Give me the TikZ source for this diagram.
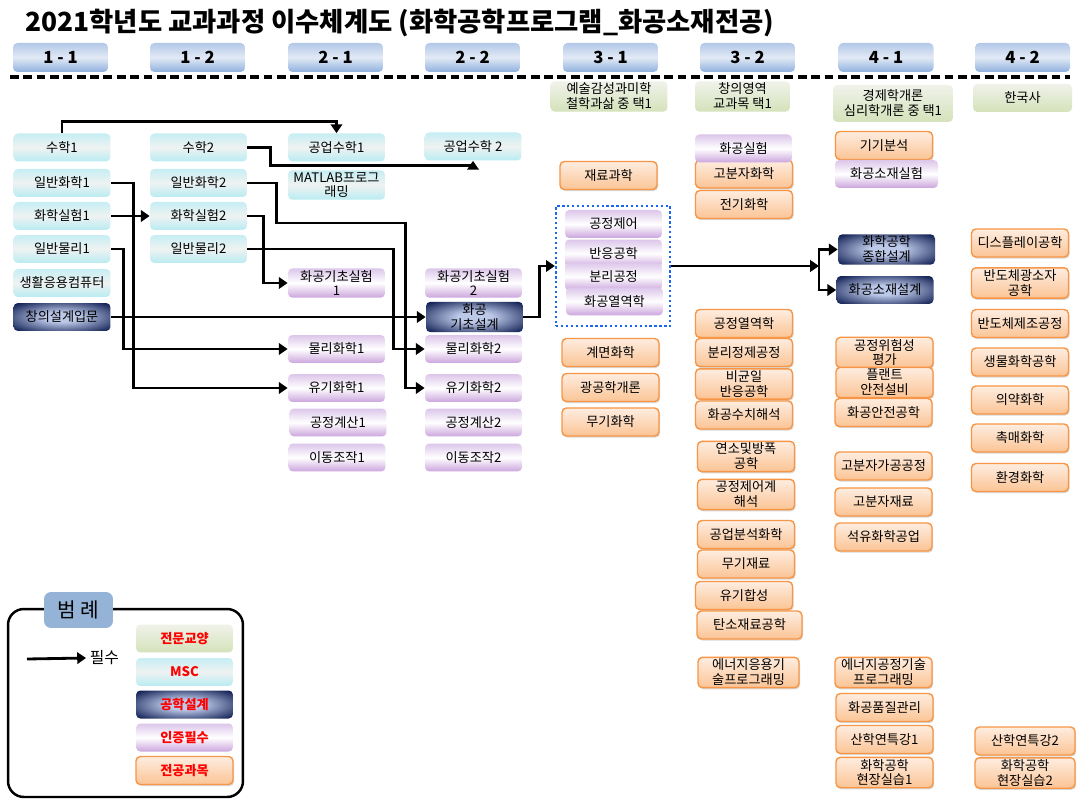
\documentclass[tikz,border=0pt]{standalone}
\usepackage{fontspec}
\setmainfont{Noto Sans CJK KR}
\usepackage{tikz}
\usetikzlibrary{arrows.meta,shadows}
\definecolor{semtop}{HTML}{B3C8E8}
\definecolor{semmid}{HTML}{E2EAF5}
\definecolor{sembot}{HTML}{8FB0DE}
\definecolor{libtop}{HTML}{F0F2EA}
\definecolor{libbot}{HTML}{D4E2BA}
\definecolor{msctop}{HTML}{C6EEF3}
\definecolor{mscmid}{HTML}{EFF2F2}
\definecolor{mscbot}{HTML}{B8ECF2}
\definecolor{certtop}{HTML}{DCC6EA}
\definecolor{certbot}{HTML}{CBA5DD}
\definecolor{majtop}{HTML}{FEEDE0}
\definecolor{majbot}{HTML}{FBC495}
\definecolor{majline}{HTML}{F79646}
\definecolor{navlight}{HTML}{BCC8E8}
\definecolor{navdark}{HTML}{0F1E52}
\definecolor{legblue}{HTML}{95B3D7}
\definecolor{dotblue}{HTML}{1A66F0}
\pgfdeclareradialshading{navyglow}{\pgfpoint{0bp}{0bp}}%
  {color(0bp)=(navlight); color(9bp)=(navlight); color(34bp)=(navdark); color(50bp)=(navdark)}

\begin{document}
\begin{tikzpicture}[x=0.02cm, y=-0.02cm,
    box/.style={rounded corners=2.5pt, minimum width=1.94cm,
                minimum height=0.56cm, align=center, inner sep=1pt,
                font=\fontsize{7.5}{8.5}\selectfont},
    sem/.style={box, minimum width=1.9cm, minimum height=0.58cm,
                top color=semtop, bottom color=sembot, middle color=semmid,
                font=\fontsize{9.5}{10}\selectfont\bfseries},
    liberal/.style={box, top color=libtop, bottom color=libbot},
    msc/.style={box, top color=msctop, bottom color=mscbot, middle color=mscmid},
    design/.style={box, shade, shading=navyglow},
    cert/.style={box, top color=certtop, bottom color=certbot, middle color=white},
    major/.style={box, draw=majline, line width=0.8pt,
                  top color=majtop, bottom color=majbot,
                  drop shadow={shadow xshift=0.6pt, shadow yshift=-0.9pt,
                               opacity=0.25, fill=black!60}},
    arrow/.style={-{Triangle[length=5pt,width=6.5pt]}, line width=1.6pt},
    legtext/.style={text=red, font=\fontsize{7.5}{8.5}\selectfont\bfseries}
  ]
  \fill[white] (0,0) rectangle (1082,800);
  \useasboundingbox (0,0) rectangle (1082,800);

  % Title and semesters
  \node[anchor=west, inner sep=0pt, font=\fontsize{15}{17}\selectfont\bfseries]
       (title) at (25,23) {2021학년도 교과과정 이수체계도 (화학공학프로그램\_화공소재전공)};
  \node[sem] (s11) at (60.5,57.5)  {1 - 1};
  \node[sem] (s12) at (197.5,57.5) {1 - 2};
  \node[sem] (s21) at (335.5,57.5) {2 - 1};
  \node[sem] (s22) at (472.5,57.5) {2 - 2};
  \node[sem] (s31) at (610.5,57.5) {3 - 1};
  \node[sem] (s32) at (747.5,57.5) {3 - 2};
  \node[sem] (s41) at (886,57.5)   {4 - 1};
  \node[sem] (s42) at (1022.5,57.5){4 - 2};
  \draw[line width=1.8pt, dash pattern=on 5pt off 2.6pt] (10,77) -- (1070,77);

  % General education
  \node[liberal, minimum width=2.34cm] (g31) at (609,96.5)  {예술감성과미학\\철학과삶 중 택1};
  \node[liberal, minimum width=1.9cm]  (g32) at (742.5,96.5) {창의영역\\교과목 택1};
  \node[liberal, minimum width=2.4cm, minimum height=0.74cm]
       (g41) at (893,103.5) {경제학개론\\심리학개론 중 택1};
  \node[liberal, minimum width=1.98cm] (g42) at (1022.5,98) {한국사};

  % 1-1
  \node[msc]    (su1)  at (62,147.5) {수학1};
  \node[msc]    (gc1)  at (62,183)   {일반화학1};
  \node[msc]    (lab1) at (62,216)   {화학실험1};
  \node[msc]    (ph1)  at (62,249)   {일반물리1};
  \node[msc]    (comp) at (62,283)   {생활응용컴퓨터};
  \node[design] (cdi)  at (62,317)   {창의설계입문};

  % 1-2
  \node[msc] (su2)  at (198.5,147.5) {수학2};
  \node[msc] (gc2)  at (198.5,183)   {일반화학2};
  \node[msc] (lab2) at (198.5,216)   {화학실험2};
  \node[msc] (ph2)  at (198.5,249)   {일반물리2};

  % 2-1
  \node[msc]  (em1)   at (336.5,147.5) {공업수학1};
  \node[msc]  (mat)   at (336.5,185)   {MATLAB프로그\\래밍};
  \node[cert] (bl1)   at (336.5,283)   {화공기초실험\\1};
  \node[cert] (pc1)   at (336.5,349)   {물리화학1};
  \node[cert] (oc1)   at (336.5,388)   {유기화학1};
  \node[cert] (pcal1) at (338,422.5)   {공정계산1};
  \node[cert] (tr1)   at (337,457.5)   {이동조작1};

  % 2-2
  \node[msc]    (em2)   at (473,146.5)   {공업수학 2};
  \node[cert]   (bl2)   at (473.5,283)   {화공기초실험\\2};
  \node[design] (bd)    at (474.5,317)   {화공\\기초설계};
  \node[cert]   (pc2)   at (473.5,349)   {물리화학2};
  \node[cert]   (oc2)   at (473.5,388)   {유기화학2};
  \node[cert]   (pcal2) at (473.5,422.5) {공정계산2};
  \node[cert]   (tr2)   at (473.5,457.5) {이동조작2};

  % 3-1
  \node[major] (matsci) at (608.5,175.5) {재료과학};
  \node[draw=dotblue, line width=1.3pt, dash pattern=on 1.3pt off 1.5pt,
        minimum width=2.28cm, minimum height=2.4cm] (core) at (613,266) {};
  \node[cert] (rxn)    at (613.5,253.5) {반응공학};
  \node[cert] (pctl)   at (613.5,224)   {공정제어};
  \node[cert] (sep)    at (613.5,276.5) {분리공정};
  \node[cert] (thermo) at (614.5,301.5) {화공열역학};
  \node[major] (iface) at (610.5,352.5) {계면화학};
  \node[major] (optic) at (610.5,387.5) {광공학개론};
  \node[major] (inorg) at (610.5,422)   {무기화학};

  % 3-2
  \node[major] (poly)    at (744,174)     {고분자화학};
  \node[cert]  (chemlab) at (743.5,148.5) {화공실험};
  \node[major] (elec)    at (744,204.5)   {전기화학};
  \node[major] (pthermo) at (744,323.5)   {공정열역학};
  \node[major] (purif)   at (744,352.5)   {분리정제공정};
  \node[major] (hetero)  at (744,384)     {비균일\\반응공학};
  \node[major] (numer)   at (744,415)     {화공수치해석};
  \node[major] (comb)    at (746,456.5)   {연소및방폭\\공학};
  \node[major] (pcs)     at (746,494.5)   {공정제어계\\해석};
  \node[major] (anal)    at (746,534.5)   {공업분석화학};
  \node[major] (inmat)   at (746,564)     {무기재료};
  \node[major] (orgsyn)  at (744,595.5)   {유기합성};
  \node[major, minimum width=2.1cm] (carbon) at (749.5,625) {탄소재료공학};
  \node[major, minimum width=2.02cm] (eprog) at (748.5,672.5) {에너지응용기\\술프로그래밍};

  % 4-1
  \node[major] (instr)  at (884,145.5)   {기기분석};
  \node[cert, minimum width=2.06cm] (mlab) at (886.5,174) {화공소재실험};
  \node[design] (cap)   at (886.5,249.5) {화학공학\\종합설계};
  \node[design] (mdes)  at (885,290)     {화공소재설계};
  \node[major] (hazard) at (884.5,352.5) {공정위험성\\평가};
  \node[major] (plant)  at (884.5,382.5) {플랜트\\안전설비};
  \node[major] (safety) at (883.5,412.5) {화공안전공학};
  \node[major] (polyp)  at (883.5,466)   {고분자가공공정};
  \node[major] (polym)  at (883.5,502)   {고분자재료};
  \node[major] (petro)  at (883.5,537)   {석유화학공업};
  \node[major] (eproc)  at (883.5,672.5) {에너지공정기술\\프로그래밍};
  \node[major] (qc)     at (884.5,707.5) {화공품질관리};
  \node[major] (sem1)   at (884.5,739.5) {산학연특강1};
  \node[major] (field1) at (884.5,772.5) {화학공학\\현장실습1};

  % 4-2
  \node[major] (disp)    at (1020,243)   {디스플레이공학};
  \node[major] (optodev) at (1020,283)   {반도체광소자\\공학};
  \node[major] (semi)    at (1020,323.5) {반도체제조공정};
  \node[major] (bio)     at (1020,362)   {생물화학공학};
  \node[major] (pharm)   at (1020,400)   {의약화학};
  \node[major] (cat)     at (1020,438)   {촉매화학};
  \node[major] (env)     at (1020,477.5) {환경화학};
  \node[major, minimum width=2cm] (sem2)   at (1025,741) {산학연특강2};
  \node[major, minimum width=2cm] (field2) at (1025,773) {화학공학\\현장실습2};

  % Prerequisites
  \draw[arrow] (su1.north) -- ++(0,-12) -| (em1.north);
  \draw[arrow] (su2.east) -- ++(23,0) -- ++(0,18) -| (em2.south);
  \draw[arrow] (gc1.east) -- ++(23,0) |- (oc1.west);
  \draw[arrow] (lab1.east) -- (lab2.west);
  \draw[arrow] (ph1.east) -- ++(13,0) |- (pc1.west);
  \draw[arrow] (gc2.east) -- ++(29,0) -- ++(0,40) -- ++(129,0) |- (oc2.west);
  \draw[arrow] (lab2.east) -- ++(16,0) |- (bl1.west);
  \draw[arrow] (ph2.east) -- ++(146,0) |- (pc2.west);
  \draw[arrow] (cdi.east) -- (bd.west);
  \draw[arrow] (bd.east) -- ++(16,0) |- (core.west);

  % Core -> capstone designs
  \coordinate (fork) at (819,266);
  \draw[arrow] (core.east) -- (fork);
  \draw[arrow] (fork) |- (cap.west);
  \draw[arrow] (fork) |- (mdes.west);

  % Legend
  \node[draw, line width=1.4pt, rounded corners=9pt,
        minimum width=4.7cm, minimum height=3.76cm] (legend) at (125.5,703) {};
  \node[fill=legblue, rounded corners=4pt, minimum width=1.38cm, minimum height=0.72cm,
        font=\fontsize{11.5}{12}\selectfont] (legtitle) at (78.5,610) {범 례};
  \coordinate (lgs) at (27,659);
  \node[anchor=west, inner sep=2pt, font=\fontsize{9}{10}\selectfont] (must) at (86,658) {필수};
  \draw[arrow] (lgs) -- (must.west);
  \node[liberal, legtext] (lg1) at (184.5,638.5) {전문교양};
  \node[msc, legtext]     (lg2) at (184.5,672)   {MSC};
  \node[design, legtext]  (lg3) at (184.5,704.5) {공학설계};
  \node[cert, legtext]    (lg4) at (184.5,737.5) {인증필수};
  \node[major, legtext]   (lg5) at (184.5,770.5) {전공과목};
\end{tikzpicture}
\end{document}
